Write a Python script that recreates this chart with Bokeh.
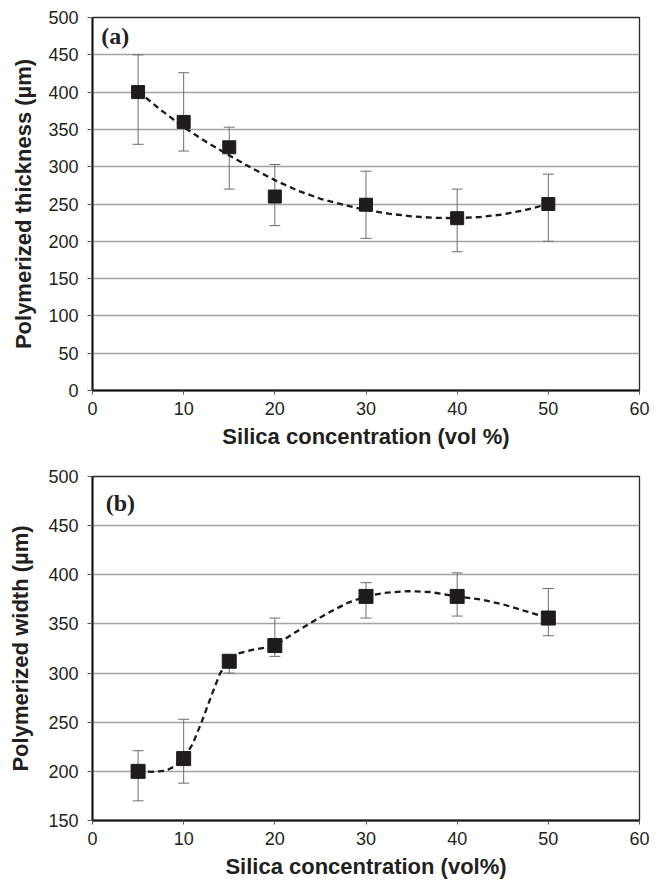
from bokeh.plotting import figure
from bokeh.models import Range1d, Whisker, ColumnDataSource, Label, TeeHead, FixedTicker
from bokeh.layouts import column
from bokeh.embed import file_html
from bokeh.resources import INLINE

# ---- data ----
conc = [5, 10, 15, 20, 30, 40, 50]

thick = [400, 360, 326, 260, 249, 231, 250]
thick_hi = [450, 426, 353, 303, 294, 270, 290]
thick_lo = [330, 321, 270, 221, 204, 186, 200]

width_vals = [200, 213, 312, 328, 378, 378, 356]
width_hi = [221, 253, 318, 356, 392, 402, 386]
width_lo = [170, 188, 300, 317, 356, 358, 338]

# dashed trend curves
thick_trend_x = [5, 7.5, 10, 12.5, 15, 17.5, 20, 22.5, 25, 27.5, 30, 32.5, 35, 37.5, 40, 42.5, 45, 47.5, 50]
thick_trend_y = [401, 376, 353, 333, 315, 298, 282, 268, 257, 249, 242, 237, 233.5, 231.5, 231, 232.5, 236, 242, 250]

width_trend_x = [5, 6.5, 8, 9, 10, 11, 12, 13, 14, 15, 16, 17.5, 19, 20, 22, 24, 26, 28, 30, 32, 34.5, 37, 40, 42.5, 45, 47.5, 50]
width_trend_y = [200, 199.5, 200.5, 205, 213, 228, 251, 276, 300, 312, 320, 323.5, 326, 328, 340, 351.5, 362, 371.5, 378, 381.5, 383.4, 382.5, 378, 375, 370, 363, 356]

x_ticks = [0, 10, 20, 30, 40, 50, 60]
thick_ticks = [0, 50, 100, 150, 200, 250, 300, 350, 400, 450, 500]
width_ticks = [150, 200, 250, 300, 350, 400, 450, 500]

TXT = "#231f20"
SANS = "Liberation Sans"


def make_panel(width, height, borders, yr, yticks, xlabel, ylabel, ylabel_standoff):
    p = figure(width=width, height=height, output_backend="svg", toolbar_location=None,
               x_range=Range1d(0, 60), y_range=Range1d(*yr),
               min_border_left=borders[0], min_border_right=borders[1],
               min_border_top=borders[2], min_border_bottom=borders[3])
    p.background_fill_color = "white"
    p.border_fill_color = "white"
    p.outline_line_color = "#2b2b2b"
    p.outline_line_width = 1.3
    p.xgrid.visible = False
    p.ygrid.grid_line_color = "#a3a3a3"
    p.ygrid.grid_line_width = 1.4
    p.xaxis.ticker = FixedTicker(ticks=x_ticks)
    p.yaxis.ticker = FixedTicker(ticks=yticks)
    for ax in (p.xaxis[0], p.yaxis[0]):
        ax.axis_line_color = "#111111"
        ax.axis_line_width = 2
        ax.major_tick_in = 0
        ax.minor_tick_line_color = None
        ax.major_tick_line_color = "#555555"
        ax.major_label_text_font = SANS
        ax.major_label_text_font_size = "18px"
        ax.major_label_text_color = TXT
        ax.axis_label_text_font = SANS
        ax.axis_label_text_font_style = "bold"
        ax.axis_label_text_font_size = "22px"
        ax.axis_label_text_color = TXT
    p.xaxis.major_tick_out = 4
    p.yaxis.major_tick_out = 5
    p.xaxis.major_label_standoff = 7
    p.yaxis.major_label_standoff = 9
    p.xaxis.axis_label_standoff = 6
    p.yaxis.axis_label_standoff = ylabel_standoff
    p.xaxis.axis_label = xlabel
    p.yaxis.axis_label = ylabel
    return p


def add_series(p, xs, ys, lo, hi, tx, ty, msize):
    src = ColumnDataSource(dict(x=xs, y=ys, lo=lo, hi=hi))
    w = Whisker(source=src, base="x", upper="hi", lower="lo",
                line_color="#6e6e6e", line_width=1,
                upper_head=TeeHead(size=11, line_color="#6e6e6e", line_width=1),
                lower_head=TeeHead(size=11, line_color="#6e6e6e", line_width=1))
    p.add_layout(w)
    p.line(tx, ty, line_color="#1a1a1a", line_width=2.3, line_dash="6 4")
    p.scatter("x", "y", source=src, marker="square", size=msize,
              fill_color="#1f1c1d", line_color="#1f1c1d")


p1 = make_panel(661, 452, (92, 22, 17, 62), (0, 500), thick_ticks,
                "Silica concentration (vol %)", "Polymerized thickness (\u00b5m)", 9)
add_series(p1, conc, thick, thick_lo, thick_hi, thick_trend_x, thick_trend_y, 13)
p1.add_layout(Label(x=0.95, y=475, text="(a)", text_font="Liberation Serif",
                    text_font_style="bold", text_font_size="24px", text_color=TXT,
                    text_baseline="middle", text_align="left"))

p2 = make_panel(661, 430, (91, 20, 24, 62), (150, 500), width_ticks,
                "Silica concentration (vol%)", "Polymerized width (\u00b5m)", 12)
add_series(p2, conc, width_vals, width_lo, width_hi, width_trend_x, width_trend_y, 14)
p2.add_layout(Label(x=1.45, y=473, text="(b)", text_font="Liberation Serif",
                    text_font_style="bold", text_font_size="24px", text_color=TXT,
                    text_baseline="middle", text_align="left"))

layout = column(p1, p2, spacing=0)
open("out.html", "w").write(file_html(layout, INLINE))
